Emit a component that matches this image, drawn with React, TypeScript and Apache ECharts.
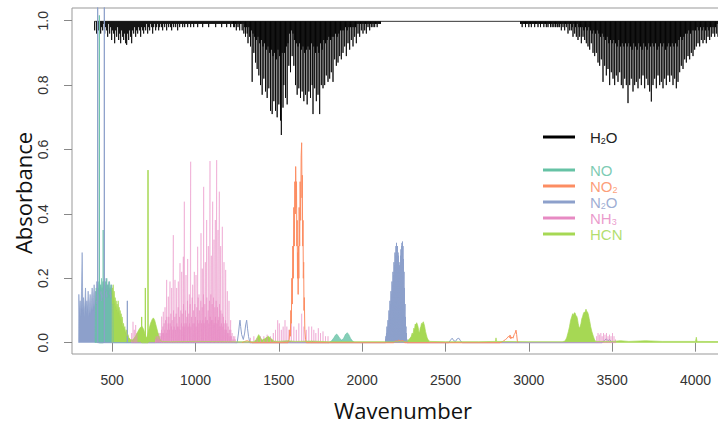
import React, { useEffect, useRef } from "react";
import * as echarts from "echarts";

// ---------- axes ----------
const X_MIN = 259;
const X_MAX = 4255;
const Y_MIN = -0.0351;
const Y_MAX = 1.0394;
const X_TICKS = [500, 1000, 1500, 2000, 2500, 3000, 3500, 4000];
const Y_TICKS = [0, 0.2, 0.4, 0.6, 0.8, 1.0];

// ---------- H2O (absorption dips hanging from ~1.0) ----------
const H2O_BASE = 0.998;
const H2O_A_START = 395;
const H2O_A_STEP = 6;
const h2oBandA = [
  0.97, 1.0, 0.96, 0.99, 0.97, 1.0, 0.96, 0.98, 0.97, 0.99,
  0.96, 0.98, 0.97, 0.95, 0.99, 0.96, 0.98, 0.94, 0.97, 0.96,
  0.93, 0.97, 0.95, 0.98, 0.94, 0.96, 0.93, 0.97, 0.95, 0.94,
  0.96, 0.93, 0.925, 0.96, 0.94, 0.97, 0.95, 0.93, 0.97, 0.96,
  0.98, 0.95, 0.97, 0.96, 0.98, 0.97, 0.95, 0.98, 0.97, 0.96,
  0.98, 0.97, 0.99, 0.96, 0.98, 0.97, 0.99, 0.98, 0.96, 0.98,
  0.99, 0.97, 0.98, 0.99, 0.97, 0.98, 0.99, 0.98, 0.97, 0.99,
  0.98, 0.99, 0.97, 0.99, 0.98, 0.99, 0.98, 0.97, 0.99, 0.98,
  0.99, 0.98, 0.99, 0.97, 0.99, 0.98, 0.99, 0.99, 0.98, 0.99,
  0.98, 0.99, 0.99, 0.98, 0.99, 0.99, 0.98, 0.99, 0.99, 0.98,
  0.99, 0.99, 0.99, 0.98, 0.99, 0.99, 0.99, 0.99, 0.98, 0.99,
  0.99, 0.99, 0.99, 0.99, 0.98, 0.99, 0.99, 0.99, 0.99, 0.99,
  0.99, 0.98, 0.99, 0.99, 0.99, 0.99, 0.99, 0.98, 0.99, 0.99,
  0.99, 0.99, 0.98, 0.99, 0.99, 0.99, 0.98, 0.99, 0.99, 0.98,
];
const H2O_B_START = 1230;
const H2O_B_STEP = 5;
const h2oBandB = [
  0.99, 0.98, 0.99, 0.97, 0.99, 0.98, 0.99, 0.97, 0.99, 0.99,
  0.97, 0.99, 0.96, 0.98, 0.95, 0.98, 0.96, 0.93, 0.98, 0.95,
  0.92, 0.97, 0.81, 0.96, 0.9, 0.95, 0.87, 0.94, 0.85, 0.95,
  0.83, 0.93, 0.8, 0.94, 0.77, 0.92, 0.82, 0.93, 0.78, 0.91,
  0.76, 0.92, 0.79, 0.9, 0.72, 0.91, 0.71, 0.89, 0.75, 0.9,
  0.72, 0.88, 0.7, 0.91, 0.74, 0.89, 0.69, 0.645, 0.9, 0.73,
  0.8, 0.9, 0.76, 0.92, 0.74, 0.93, 0.86, 0.96, 0.84, 0.97,
  0.89, 0.96, 0.86, 0.94, 0.8, 0.93, 0.77, 0.92, 0.79, 0.93,
  0.76, 0.91, 0.78, 0.92, 0.75, 0.9, 0.77, 0.91, 0.74, 0.92,
  0.78, 0.91, 0.76, 0.93, 0.8, 0.71, 0.92, 0.79, 0.9, 0.75,
  0.92, 0.77, 0.9, 0.71, 0.93, 0.8, 0.91, 0.79, 0.94, 0.8,
  0.93, 0.83, 0.94, 0.81, 0.95, 0.82, 0.94, 0.84, 0.95, 0.81,
  0.95, 0.88, 0.96, 0.86, 0.95, 0.87, 0.96, 0.89, 0.97, 0.88,
  0.97, 0.9, 0.97, 0.92, 0.98, 0.89, 0.97, 0.93, 0.98, 0.91,
  0.98, 0.94, 0.98, 0.92, 0.98, 0.95, 0.98, 0.93, 0.99, 0.96,
  0.99, 0.95, 0.99, 0.97, 0.99, 0.96, 0.99, 0.97, 0.99, 0.96,
  0.99, 0.98, 0.99, 0.97, 0.99, 0.98, 0.99, 0.98, 0.99, 0.98,
  0.99, 0.99, 0.98, 0.99, 0.99, 0.99, 0.99,
];
const H2O_C_START = 2950;
const H2O_C_STEP = 5;
const h2oBandC = [
  0.99, 0.99, 0.98, 0.99, 0.99, 0.99, 0.98, 0.99, 0.99, 0.99,
  0.98, 0.99, 0.99, 0.98, 0.99, 0.99, 0.99, 0.98, 0.99, 0.99,
  0.99, 0.98, 0.99, 0.99, 0.98, 0.99, 0.99, 0.99, 0.98, 0.99,
  0.99, 0.98, 0.99, 0.98, 0.99, 0.99, 0.98, 0.99, 0.98, 0.99,
  0.98, 0.99, 0.98, 0.99, 0.98, 0.98, 0.99, 0.98, 0.99, 0.97,
  0.99, 0.98, 0.99, 0.97, 0.99, 0.98, 0.99, 0.96, 0.99, 0.97,
  0.99, 0.97, 0.98, 0.95, 0.99, 0.96, 0.98, 0.95, 0.99, 0.94,
  0.98, 0.95, 0.98, 0.93, 0.98, 0.95, 0.97, 0.94, 0.98, 0.93,
  0.97, 0.92, 0.98, 0.91, 0.97, 0.93, 0.96, 0.9, 0.97, 0.89,
  0.96, 0.9, 0.97, 0.87, 0.96, 0.86, 0.95, 0.88, 0.96, 0.81,
  0.95, 0.86, 0.94, 0.83, 0.95, 0.85, 0.93, 0.8, 0.94, 0.84,
  0.93, 0.82, 0.94, 0.8, 0.93, 0.83, 0.92, 0.81, 0.94, 0.84,
  0.92, 0.8, 0.93, 0.79, 0.92, 0.82, 0.93, 0.8, 0.92, 0.744,
  0.93, 0.8, 0.92, 0.82, 0.91, 0.78, 0.93, 0.8, 0.92, 0.81,
  0.91, 0.79, 0.93, 0.82, 0.92, 0.8, 0.91, 0.83, 0.93, 0.79,
  0.92, 0.82, 0.91, 0.8, 0.93, 0.78, 0.92, 0.749, 0.93, 0.8,
  0.92, 0.82, 0.93, 0.79, 0.91, 0.83, 0.92, 0.8, 0.93, 0.81,
  0.92, 0.79, 0.93, 0.82, 0.91, 0.8, 0.92, 0.83, 0.93, 0.81,
  0.92, 0.83, 0.93, 0.8, 0.92, 0.82, 0.93, 0.79, 0.92, 0.81,
  0.94, 0.84, 0.95, 0.86, 0.94, 0.85, 0.95, 0.88, 0.96, 0.87,
  0.96, 0.89, 0.97, 0.88, 0.96, 0.9, 0.97, 0.89, 0.97, 0.91,
  0.97, 0.92, 0.98, 0.93, 0.97, 0.92, 0.98, 0.94, 0.97, 0.93,
  0.98, 0.94, 0.97, 0.93, 0.98, 0.95, 0.97, 0.94, 0.98, 0.95,
  0.98, 0.96, 0.98, 0.95, 0.98, 0.96, 0.99, 0.95, 0.98, 0.97,
  0.98,
];

// ---------- NO ----------
const noFill: [number, number][] = [
  [397, 0], [400, 0.12], [404, 0.17], [408, 0.13], [412, 0.18], [416, 0.15], [420, 0.19],
  [424, 0.14], [428, 0.18], [432, 0.16], [436, 0.2], [440, 0.15], [444, 0.19], [448, 0.16],
  [452, 0.18], [456, 0.14], [460, 0.19], [464, 0.16], [468, 0.2], [472, 0.15], [476, 0.18],
  [480, 0.14], [484, 0.19], [488, 0.16], [492, 0.18], [496, 0.15], [500, 0.17], [504, 0.12],
  [507, 0], [1800, 0], [1815, 0.005], [1830, 0.015], [1840, 0.024], [1847, 0.027],
  [1855, 0.022], [1865, 0.014], [1877, 0.008], [1888, 0.013], [1900, 0.026], [1911, 0.031],
  [1920, 0.025], [1930, 0.014], [1942, 0.005], [1957, 0],
];
const noLines: [number, number][] = [[423, 1.017], [446, 0.35]];

// ---------- NO2 ----------
const no2Profile: [number, number][] = [
  [1280, 0], [1295, 0.004], [1310, 0.006], [1325, 0.003], [1340, 0],
  [1555, 0], [1562, 0.01], [1566, 0.04], [1569, 0.02], [1572, 0.1], [1575, 0.06], [1578, 0.2],
  [1581, 0.12], [1584, 0.3], [1587, 0.2], [1590, 0.42], [1593, 0.3], [1596, 0.5], [1599, 0.4],
  [1601, 0.547], [1604, 0.42], [1606, 0.5], [1608, 0.3], [1610, 0.38], [1612, 0.2], [1614, 0.28],
  [1616, 0.15], [1618, 0.3], [1620, 0.2], [1622, 0.42], [1625, 0.3], [1628, 0.5], [1631, 0.38],
  [1634, 0.58], [1637, 0.621], [1639, 0.45], [1641, 0.52], [1643, 0.3], [1645, 0.38], [1647, 0.2],
  [1649, 0.25], [1651, 0.1], [1653, 0.14], [1656, 0.04], [1660, 0.01], [1665, 0],
  [2190, 0], [2200, 0.006], [2210, 0.004], [2220, 0.008], [2232, 0.005], [2245, 0.007], [2255, 0],
  [2827, 0], [2840, 0.003], [2850, 0.006], [2860, 0.01], [2870, 0.014], [2878, 0.02], [2884, 0.016],
  [2887, 0.024], [2892, 0.012], [2898, 0.018], [2905, 0.014], [2912, 0.025], [2918, 0.03],
  [2923, 0.039], [2927, 0.025], [2931, 0.005], [2936, 0],
];

// ---------- N2O ----------
const n2oFill: [number, number][] = [
  [299, 0], [300, 0.15], [304, 0.09], [308, 0.13], [312, 0.08], [316, 0.16], [320, 0.28],
  [324, 0.1], [328, 0.14], [332, 0.08], [336, 0.12], [340, 0.17], [344, 0.09], [348, 0.13],
  [352, 0.1], [356, 0.16], [360, 0.08], [364, 0.12], [368, 0.15], [372, 0.09], [376, 0.13],
  [380, 0.17], [384, 0.1], [388, 0.14], [392, 0.18], [396, 0.11], [400, 0.16], [404, 0.12],
  [408, 0.19], [412, 0.14], [416, 0.17], [420, 0.13], [424, 0.19], [428, 0.15], [432, 0.18],
  [436, 0.13], [440, 0.17], [444, 0.14], [448, 0.19], [452, 0.15], [456, 0.18], [460, 0.16],
  [464, 0.2], [468, 0.14], [472, 0.18], [476, 0.16], [480, 0.19], [484, 0.15], [488, 0.17],
  [492, 0.14], [496, 0.18], [500, 0.16], [501, 0],
];
const n2oLines: [number, number][] = [[413, 1.2], [453, 1.2], [591, 0.13]];
const N2O_BAND_START = 2140;
const N2O_BAND_STEP = 3;
const n2oBand = [
  0.01, 0.02, 0.03, 0.05, 0.04, 0.07, 0.06, 0.1, 0.09, 0.13,
  0.12, 0.16, 0.15, 0.19, 0.18, 0.22, 0.21, 0.25, 0.24, 0.28,
  0.27, 0.3, 0.31, 0.29, 0.3, 0.28, 0.27, 0.25, 0.24, 0.22,
  0.27, 0.29, 0.3, 0.31, 0.314, 0.3, 0.26, 0.22, 0.17, 0.12,
  0.08, 0.05, 0.03, 0.01, 0.0,
];
const n2oWeak: [number, number][] = [
  [1250, 0], [1258, 0.03], [1263, 0.055], [1267, 0.07], [1271, 0.05], [1277, 0.025], [1287, 0.01],
  [1295, 0.03], [1301, 0.055], [1307, 0.07], [1312, 0.045], [1318, 0.02], [1326, 0],
  [2520, 0], [2530, 0.008], [2540, 0.014], [2550, 0.006], [2560, 0.004], [2570, 0.012],
  [2580, 0.014], [2590, 0.006], [2600, 0],
  [3440, 0], [3455, 0.008], [3465, 0.012], [3475, 0.006], [3485, 0.01], [3495, 0.004], [3505, 0],
];

// ---------- NH3 ----------
const NH3_BASE_START = 760;
const NH3_BASE_STEP = 4;
const nh3Base = [
  0.01, 0.02, 0.01, 0.02, 0.01, 0.03, 0.02, 0.03, 0.02, 0.04,
  0.03, 0.05, 0.03, 0.06, 0.04, 0.07, 0.03, 0.08, 0.04, 0.06,
  0.08, 0.04, 0.06, 0.09, 0.05, 0.07, 0.04, 0.1, 0.05, 0.08,
  0.04, 0.09, 0.06, 0.05, 0.11, 0.05, 0.08, 0.04, 0.1, 0.06,
  0.09, 0.05, 0.12, 0.06, 0.05, 0.1, 0.06, 0.08, 0.13, 0.05,
  0.09, 0.06, 0.12, 0.05, 0.08, 0.14, 0.06, 0.1, 0.06, 0.12,
  0.08, 0.05, 0.11, 0.07, 0.14, 0.06, 0.1, 0.07, 0.13, 0.06,
  0.11, 0.07, 0.15, 0.06, 0.12, 0.08, 0.07, 0.14, 0.07, 0.1,
  0.06, 0.13, 0.08, 0.15, 0.07, 0.12, 0.07, 0.14, 0.06, 0.11,
  0.08, 0.13, 0.06, 0.11, 0.07, 0.08, 0.12, 0.05, 0.1, 0.06,
  0.09, 0.05, 0.08, 0.06, 0.04, 0.07, 0.04, 0.06, 0.03, 0.05,
  0.03, 0.04, 0.02, 0.04, 0.02, 0.03, 0.01, 0.02, 0.01, 0.02,
  0.01,
];
const nh3Lines: [number, number][] = [
  [617, 0.03], [625, 0.065], [633, 0.04], [641, 0.055], [648, 0.03],
  [797, 0.081], [807, 0.096], [817, 0.11], [827, 0.195], [837, 0.143], [847, 0.19], [857, 0.17],
  [867, 0.334], [877, 0.195], [887, 0.17], [897, 0.19], [907, 0.247], [917, 0.22], [927, 0.267],
  [933, 0.438], [943, 0.21], [953, 0.26], [963, 0.15], [971, 0.562], [983, 0.18], [993, 0.22],
  [1003, 0.21], [1013, 0.298], [1021, 0.15], [1033, 0.34], [1041, 0.23], [1049, 0.484],
  [1059, 0.25], [1067, 0.381], [1077, 0.3], [1087, 0.564], [1095, 0.27], [1103, 0.438],
  [1111, 0.32], [1119, 0.381], [1127, 0.567], [1135, 0.35], [1143, 0.469], [1151, 0.3],
  [1161, 0.36], [1171, 0.25], [1181, 0.226], [1191, 0.16], [1201, 0.13], [1211, 0.07],
  [1330, 0.015], [1350, 0.02], [1370, 0.015], [1390, 0.02], [1410, 0.02], [1430, 0.025], [1450, 0.02],
  [1467, 0.03], [1480, 0.04], [1493, 0.07], [1503, 0.06], [1515, 0.04], [1526, 0.05], [1537, 0.07],
  [1548, 0.05], [1560, 0.04], [1575, 0.06], [1590, 0.05], [1605, 0.04], [1620, 0.06], [1637, 0.09],
  [1650, 0.05], [1665, 0.04], [1680, 0.05], [1697, 0.05], [1710, 0.04], [1722, 0.03], [1737, 0.045],
  [1750, 0.03], [1765, 0.035], [1780, 0.02], [1795, 0.02],
  [3407, 0.02], [3415, 0.03], [3423, 0.025], [3432, 0.03], [3440, 0.02], [3448, 0.03], [3457, 0.025],
  [3466, 0.03], [3475, 0.02], [3484, 0.025], [3493, 0.02], [3502, 0.03], [3511, 0.02], [3520, 0.01],
];

// ---------- HCN ----------
const hcnFill: [number, number][] = [
  [500, 0], [500.5, 0.17], [503, 0.12], [506, 0.18], [509, 0.13], [512, 0.16], [515, 0.12],
  [518, 0.14], [521, 0.11], [524, 0.13], [527, 0.1], [530, 0.12], [533, 0.09], [536, 0.13],
  [539, 0.09], [542, 0.11], [545, 0.08], [548, 0.1], [551, 0.07], [554, 0.09], [557, 0.06],
  [560, 0.08], [564, 0.05], [568, 0.06], [572, 0.04], [576, 0.05], [580, 0.03], [585, 0.04],
  [590, 0.02], [595, 0.025], [600, 0.015], [610, 0.01], [620, 0.008], [630, 0.012], [640, 0.02],
  [650, 0.03], [660, 0.04], [670, 0.048], [680, 0.05], [690, 0.04], [695, 0.03], [700, 0.02],
  [705, 0.015], [710, 0.02], [720, 0.04], [730, 0.06], [740, 0.072], [747, 0.077], [755, 0.07],
  [765, 0.05], [775, 0.03], [785, 0.012], [795, 0.004], [850, 0.003], [1000, 0.004], [1200, 0.003],
  [1350, 0.003], [1365, 0.01], [1379, 0.025], [1390, 0.015], [1400, 0.008], [1415, 0.012],
  [1437, 0.02], [1455, 0.012], [1470, 0.005], [1500, 0.004], [1550, 0.006], [1600, 0.004],
  [1700, 0.005], [1800, 0.003], [2000, 0.003], [2250, 0.003], [2270, 0.005], [2285, 0.012],
  [2295, 0.02], [2300, 0.03], [2305, 0.025], [2310, 0.045], [2314, 0.04], [2318, 0.058],
  [2322, 0.055], [2327, 0.062], [2331, 0.057], [2335, 0.05], [2340, 0.035], [2344, 0.03],
  [2348, 0.045], [2352, 0.05], [2356, 0.06], [2360, 0.058], [2364, 0.063], [2367, 0.065],
  [2371, 0.058], [2375, 0.05], [2380, 0.035], [2385, 0.025], [2390, 0.015], [2395, 0.01],
  [2405, 0.004], [2500, 0.003], [2700, 0.003], [2800, 0.004], [2803, 0.015], [2806, 0.004],
  [3000, 0.003], [3200, 0.003], [3217, 0.005], [3227, 0.015], [3237, 0.034], [3244, 0.05],
  [3251, 0.07], [3257, 0.08], [3263, 0.09], [3268, 0.085], [3272, 0.092], [3277, 0.093],
  [3282, 0.085], [3287, 0.082], [3291, 0.076], [3296, 0.06], [3300, 0.05], [3304, 0.045],
  [3308, 0.05], [3313, 0.06], [3318, 0.075], [3322, 0.08], [3327, 0.09], [3332, 0.095],
  [3336, 0.092], [3340, 0.1], [3343, 0.104], [3347, 0.098], [3352, 0.095], [3357, 0.088],
  [3362, 0.075], [3366, 0.065], [3371, 0.05], [3378, 0.035], [3387, 0.02], [3395, 0.008],
  [3403, 0.004], [3500, 0.004], [3550, 0.006], [3600, 0.004], [3700, 0.006], [3800, 0.004],
  [4000, 0.004], [4005, 0.017], [4009, 0.004], [4255, 0.003],
];
const hcnLines: [number, number][] = [[677, 0.08], [699, 0.17], [715, 0.536]];

// ---------- colours & legend ----------
const COLORS = {
  H2O: "#000000",
  NO: "#66c2a5",
  NO2: "#fc8d62",
  N2O: "#8da0cb",
  NH3: "#e78ac3",
  HCN: "#a6d854",
};
// each legend label: pieces of [text, isSubscript]
const legendLabels: { parts: [string, boolean][]; color: string; textColor: string }[] = [
  { parts: [["H", false], ["2", true], ["O", false]], color: COLORS.H2O, textColor: "#222" },
  { parts: [["NO", false]], color: COLORS.NO, textColor: COLORS.NO },
  { parts: [["NO", false], ["2", true]], color: COLORS.NO2, textColor: COLORS.NO2 },
  { parts: [["N", false], ["2", true], ["O", false]], color: COLORS.N2O, textColor: COLORS.N2O },
  { parts: [["NH", false], ["3", true]], color: COLORS.NH3, textColor: COLORS.NH3 },
  { parts: [["HCN", false]], color: COLORS.HCN, textColor: COLORS.HCN },
];
const legendRows = [137, 170, 186, 202, 218, 234];

// ---------- helpers ----------
type P = [number, number];
function band(start: number, step: number, vals: number[]): P[] {
  return vals.map((v, i) => [start + i * step, v] as P);
}
function sticks(pairs: P[], base: number): P[] {
  const out: P[] = [];
  for (const [x, v] of pairs) out.push([x, base], [x, v], [x, base]);
  return out;
}
function byX(a: P[]): P[] {
  return a.slice().sort((p, q) => p[0] - q[0]);
}
const LEG_FONT = "Liberation Sans, Arial, sans-serif";
const MAIN_SIZE = 15;
const SUB_SIZE = 9;
const SUB_DROP = 4;
function measure(text: string, size: number): number {
  const c = document.createElement("canvas").getContext("2d");
  if (!c) return text.length * size * 0.6;
  c.font = `${size}px "Liberation Sans", Arial, sans-serif`;
  return c.measureText(text).width;
}

export default function App() {
  const ref = useRef<HTMLDivElement>(null);
  useEffect(() => {
    document.body.style.margin = "0";
    document.body.style.overflow = "hidden";
    document.documentElement.style.overflow = "hidden";
    if (!ref.current) return;
    const chart = echarts.init(ref.current, null, { renderer: "svg" });

    const h2oData = sticks(
      [
        ...band(H2O_A_START, H2O_A_STEP, h2oBandA),
        ...band(H2O_B_START, H2O_B_STEP, h2oBandB),
        ...band(H2O_C_START, H2O_C_STEP, h2oBandC),
      ],
      H2O_BASE
    );
    const n2oLineData = byX([
      ...sticks(n2oLines, 0),
      ...sticks(band(N2O_BAND_START, N2O_BAND_STEP, n2oBand), 0),
      ...n2oWeak,
    ]);
    const nh3Data = byX([
      ...sticks(band(NH3_BASE_START, NH3_BASE_STEP, nh3Base), 0),
      ...sticks(nh3Lines, 0),
    ]);

    const lineSeries = (data: P[], color: string, width = 1, opacity = 1) => ({
      type: "line",
      data,
      showSymbol: false,
      symbol: "none",
      silent: true,
      lineStyle: { color, width, opacity },
    });
    const areaSeries = (data: P[], color: string, opacity = 1) => ({
      type: "line",
      data,
      showSymbol: false,
      symbol: "none",
      silent: true,
      lineStyle: { color, width: 0.7, opacity },
      areaStyle: { color, opacity },
    });

    const legendGraphics: any[] = [];
    legendLabels.forEach((l, i) => {
      const y = legendRows[i];
      legendGraphics.push({
        type: "line",
        shape: { x1: 543, y1: y, x2: 575, y2: y },
        style: { stroke: l.color, lineWidth: 3 },
        silent: true,
      });
      let x = 590;
      l.parts.forEach(([t, sub]) => {
        const size = sub ? SUB_SIZE : MAIN_SIZE;
        legendGraphics.push({
          type: "text",
          x,
          y: sub ? y + SUB_DROP : y,
          silent: true,
          style: {
            text: t,
            fontSize: size,
            fontFamily: LEG_FONT,
            fill: l.textColor,
            opacity: i === 0 ? 1 : 0.85,
            align: "left",
            verticalAlign: "middle",
          },
        });
        x += measure(t, size);
      });
    });

    chart.setOption({
      animation: false,
      grid: {
        left: 72,
        top: 8,
        width: 666,
        height: 346,
        show: true,
        borderColor: "#999",
        borderWidth: 1,
        backgroundColor: "transparent",
      },
      xAxis: {
        type: "value",
        min: X_MIN,
        max: X_MAX,
        axisLine: { show: false },
        splitLine: { show: false },
        axisTick: { customValues: X_TICKS, length: 9, lineStyle: { color: "#888" } },
        axisLabel: {
          customValues: X_TICKS,
          margin: 19,
          fontSize: 14,
          color: "#333",
          fontFamily: "Liberation Sans, Arial, sans-serif",
          formatter: (v: number) => String(v),
        },
      },
      yAxis: {
        type: "value",
        min: Y_MIN,
        max: Y_MAX,
        axisLine: { show: false },
        splitLine: { show: false },
        axisTick: { customValues: Y_TICKS, length: 8, lineStyle: { color: "#888" } },
        axisLabel: {
          customValues: Y_TICKS,
          rotate: 90,
          margin: 22,
          fontSize: 14,
          color: "#333",
          fontFamily: "Liberation Sans, Arial, sans-serif",
          formatter: (v: number) => v.toFixed(1),
        },
      },
      series: [
        lineSeries(h2oData, COLORS.H2O, 0.8),
        areaSeries(n2oFill, COLORS.N2O),
        areaSeries(noFill, COLORS.NO, 0.8),
        lineSeries(sticks(noLines, 0), COLORS.NO, 1.2),
        lineSeries(n2oLineData, COLORS.N2O, 1),
        lineSeries(nh3Data, COLORS.NH3, 0.8, 0.55),
        lineSeries(no2Profile, COLORS.NO2, 1),
        areaSeries(hcnFill, COLORS.HCN),
        lineSeries(sticks(hcnLines, 0), COLORS.HCN, 1),
      ],
      graphic: [
        {
          type: "text",
          x: 403,
          y: 410,
          silent: true,
          style: {
            text: "Wavenumber",
            fontSize: 22,
            fontFamily: "Open Sans, sans-serif",
            fill: "#111",
            align: "center",
            verticalAlign: "middle",
          },
        },
        {
          type: "text",
          x: 23,
          y: 193,
          rotation: Math.PI / 2,
          silent: true,
          style: {
            text: "Absorbance",
            fontSize: 22,
            fontFamily: "Open Sans, sans-serif",
            fill: "#111",
            align: "center",
            verticalAlign: "middle",
          },
        },
        ...legendGraphics,
      ],
    });
    return () => chart.dispose();
  }, []);
  return <div ref={ref} style={{ width: 740, height: 429 }} />;
}
